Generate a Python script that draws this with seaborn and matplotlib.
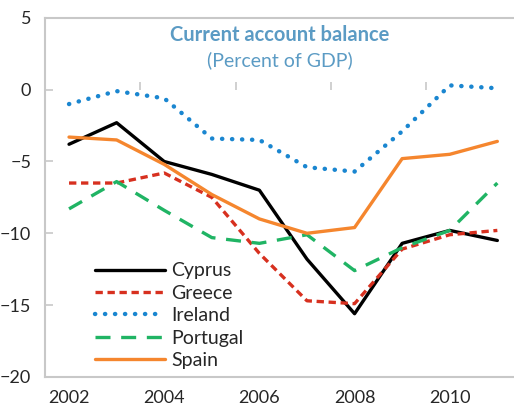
import seaborn as sns
import matplotlib.pyplot as plt
import pandas as pd

# Current account balance, percent of GDP
years = [2002, 2003, 2004, 2005, 2006, 2007, 2008, 2009, 2010, 2011]
cyprus = [-3.8, -2.3, -5.0, -5.9, -7.0, -11.8, -15.6, -10.7, -9.8, -10.5]
greece = [-6.5, -6.5, -5.8, -7.5, -11.4, -14.7, -14.9, -11.1, -10.1, -9.8]
ireland = [-1.0, -0.1, -0.6, -3.4, -3.5, -5.4, -5.7, -2.9, 0.3, 0.1]
portugal = [-8.3, -6.4, -8.4, -10.3, -10.7, -10.1, -12.6, -11.0, -9.8, -6.5]
spain = [-3.3, -3.5, -5.2, -7.3, -9.0, -10.0, -9.6, -4.8, -4.5, -3.6]

countries = ["Cyprus", "Greece", "Ireland", "Portugal", "Spain"]
values = [cyprus, greece, ireland, portugal, spain]

df = pd.concat(
    [pd.DataFrame({"Year": years, "Balance": v, "Country": c}) for c, v in zip(countries, values)],
    ignore_index=True,
)

styles = {
    "Cyprus": dict(color="black", linestyle="-", linewidth=2.4),
    "Greece": dict(color="#d7301f", linestyle=(0, (2.2, 1.4)), linewidth=2.4),
    "Ireland": dict(color="#1a86d0", linestyle=(0, (0.05, 2.2)), linewidth=3.2,
                    dash_capstyle="round"),
    "Portugal": dict(color="#20b464", linestyle=(0, (4.5, 3.2)), linewidth=2.4),
    "Spain": dict(color="#f5862e", linestyle="-", linewidth=2.4),
}

sns.set_style("white")
plt.rcParams["font.family"] = ["Lato", "DejaVu Sans"]

fig = plt.figure(figsize=(5.14, 4.16), dpi=100)
ax = fig.add_axes([0.088, 0.094, 0.912, 0.863])

for c in countries:
    sns.lineplot(data=df[df["Country"] == c], x="Year", y="Balance",
                 label=c, ax=ax, **styles[c])

ax.set_xlim(2001.5, 2011.35)
ax.set_ylim(-20, 5)
ax.set_yticks([5, 0, -5, -10, -15, -20])
ax.set_xticks([2002, 2004, 2006, 2008, 2010])
ax.set_xlabel("")
ax.set_ylabel("")

frame = "#c8c8c8"
for side in ["left", "top", "bottom"]:
    ax.spines[side].set_color(frame)
    ax.spines[side].set_linewidth(1.5)
ax.spines["right"].set_visible(False)

ax.tick_params(axis="y", direction="in", length=6, color=frame, width=1.2,
               left=True, pad=10, labelsize=13)
ax.tick_params(axis="x", bottom=False, pad=6, labelsize=13)

# zero line with category tick marks
zero = ax.secondary_xaxis(20 / 25)
zero.spines["bottom"].set_color(frame)
zero.spines["bottom"].set_linewidth(1.5)
zero.spines["top"].set_visible(False)
zero.set_xticks([2003.5, 2005.5, 2007.5, 2009.5])
zero.tick_params(axis="x", direction="out", length=6, color=frame, width=1.2,
                 labelbottom=False, labeltop=False, top=True, bottom=False)

ax.text(0.5, 0.953, "Current account balance", transform=ax.transAxes,
        ha="center", va="center", fontsize=14.5, fontweight="bold", color="#5b9bc4")
ax.text(0.5, 0.883, "(Percent of GDP)", transform=ax.transAxes,
        ha="center", va="center", fontsize=14, color="#5b9bc4")

ax.legend(loc="lower left", bbox_to_anchor=(0.09, 0.0), frameon=False,
          fontsize=14, handlelength=3.6, labelspacing=0.28, handletextpad=0.3,
          borderaxespad=0)

fig.savefig("out.png", dpi=100)
plt.close(fig)
